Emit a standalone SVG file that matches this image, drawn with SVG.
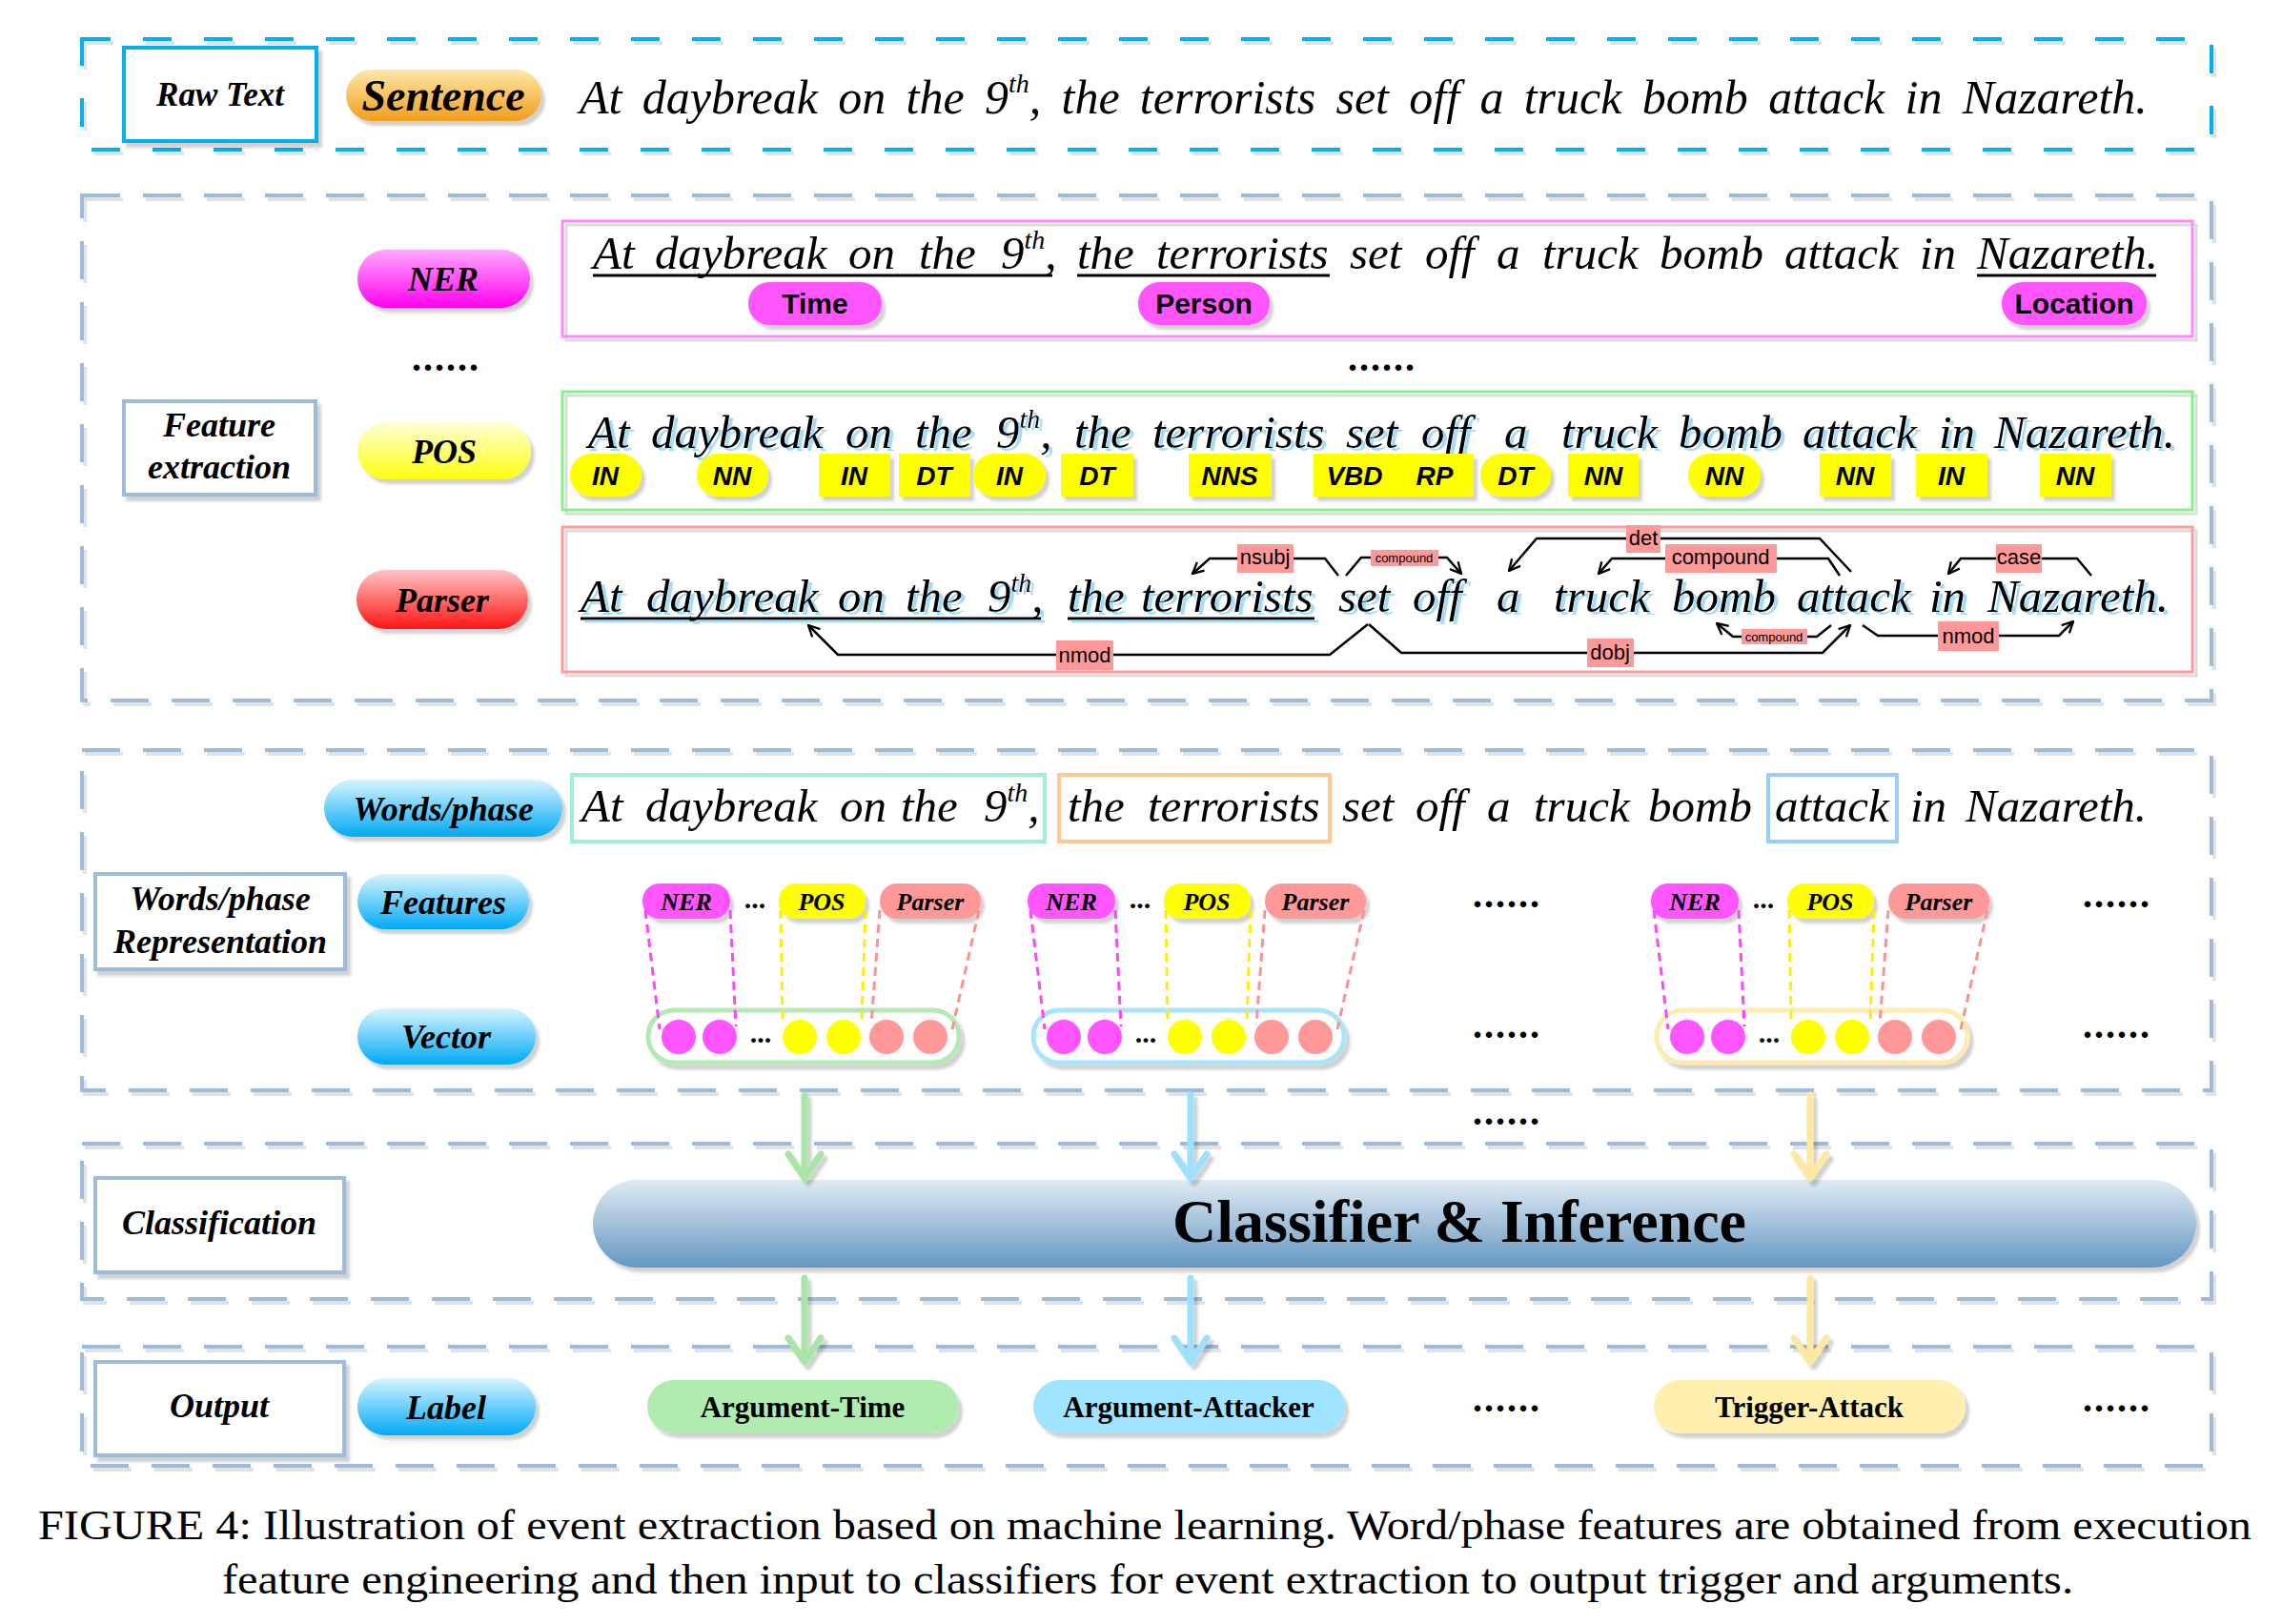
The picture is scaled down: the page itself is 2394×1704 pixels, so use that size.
<svg xmlns="http://www.w3.org/2000/svg" width="2394" height="1704" viewBox="0 0 2394 1704">
<defs>
<linearGradient id="gBlue" x1="0" y1="0" x2="0" y2="1"><stop offset="0" stop-color="#d8f4ff"/><stop offset="1" stop-color="#00aaf6"/></linearGradient>
<linearGradient id="gMag" x1="0" y1="0" x2="0" y2="1"><stop offset="0" stop-color="#ffaaff"/><stop offset="1" stop-color="#ff00ee"/></linearGradient>
<linearGradient id="gYel" x1="0" y1="0" x2="0" y2="1"><stop offset="0" stop-color="#ffffd8"/><stop offset="1" stop-color="#ffff10"/></linearGradient>
<linearGradient id="gRed" x1="0" y1="0" x2="0" y2="1"><stop offset="0" stop-color="#ffc4c4"/><stop offset="1" stop-color="#ff1414"/></linearGradient>
<linearGradient id="gOr" x1="0" y1="0" x2="0" y2="1"><stop offset="0" stop-color="#fde8a8"/><stop offset="1" stop-color="#f09e1c"/></linearGradient>
<linearGradient id="gCls" x1="0" y1="0" x2="0" y2="1"><stop offset="0" stop-color="#e0ebf3"/><stop offset="1" stop-color="#6497c2"/></linearGradient>
<filter id="sh" x="-10%" y="-20%" width="130%" height="160%"><feDropShadow dx="4" dy="5" stdDeviation="1.5" flood-color="#000" flood-opacity="0.18"/></filter>
<filter id="ts" x="-2%" y="-30%" width="104%" height="160%"><feDropShadow dx="4" dy="3" stdDeviation="0.6" flood-color="#a6dcf6" flood-opacity="1"/></filter>
<marker id="ah" viewBox="0 0 12 12" refX="11" refY="6" markerWidth="14" markerHeight="14" markerUnits="userSpaceOnUse" orient="auto"><path d="M1,1 L11,6 L1,11" fill="none" stroke="#000" stroke-width="2"/></marker>
</defs>
<style>
.p1{fill:none;stroke:#00b0f0;stroke-width:4;stroke-dasharray:30 34}
.p{fill:none;stroke:#9dbcdc;stroke-width:4;stroke-dasharray:40 24}
.psh{fill:none;stroke:#e2e2e2;stroke-width:4;stroke-dasharray:40 24}
.psh1{fill:none;stroke:#e2e2e2;stroke-width:4;stroke-dasharray:30 34}
.box{fill:#fff;stroke:#9dbcdc;stroke-width:4}
.bi{font-family:"Liberation Serif","Times New Roman",serif;font-style:italic;font-weight:bold;text-anchor:middle;fill:#000;font-size:36px}
.sm{font-size:26px}
.bs{font-family:"Liberation Serif","Times New Roman",serif;font-weight:bold;text-anchor:middle;fill:#000;font-size:31px}
.sent{font-family:"Liberation Serif","Times New Roman",serif;font-style:italic;font-size:49px;fill:#000}
.sup{font-size:28px}
.tag{font-family:"Liberation Sans",Arial,sans-serif;font-weight:bold;font-style:italic;font-size:28px;text-anchor:middle;fill:#000}
.ner{font-family:"Liberation Sans",Arial,sans-serif;font-weight:bold;font-size:30px;text-anchor:middle;fill:#000}
.dep{font-family:"Liberation Sans",Arial,sans-serif;font-size:22px;text-anchor:middle;fill:#000}
.deps{font-size:13px}
.dl{fill:#ff9999}
.arc{fill:none;stroke:#000;stroke-width:2.5;marker-end:url(#ah)}
.ul{stroke:#000;stroke-width:3}
.dots{font-family:"Liberation Serif","Times New Roman",serif;font-weight:bold;font-size:40px;letter-spacing:2px;fill:#000}
.dot3{font-family:"Liberation Serif","Times New Roman",serif;font-weight:bold;font-size:30px;text-anchor:middle;fill:#000}
.yt{fill:#ffff00}
.fm{fill:#ff55ff}
.fy{fill:#ffff00}
.fr{fill:#ff9999}
.dm{fill:none;stroke:#ff44ff;stroke-width:3;stroke-dasharray:9 6}
.dy{fill:none;stroke:#ffee00;stroke-width:3;stroke-dasharray:9 6}
.dr{fill:none;stroke:#ff9090;stroke-width:3;stroke-dasharray:9 6}
.ag{fill:none;stroke:#a8e6a8;stroke-width:7;stroke-linecap:round;stroke-linejoin:round}
.ab{fill:none;stroke:#a0e0ff;stroke-width:7;stroke-linecap:round;stroke-linejoin:round}
.ay{fill:none;stroke:#ffe8a0;stroke-width:7;stroke-linecap:round;stroke-linejoin:round}
.cap{font-family:"Liberation Serif","Times New Roman",serif;font-size:44px;fill:#000}
</style>
<rect width="2394" height="1704" fill="#fff"/>

<g id="panels">
<rect class="psh1" x="89" y="45" width="2234" height="116"/>
<rect class="p1" x="86" y="41" width="2234" height="116"/>
<rect class="psh" x="89" y="209" width="2234" height="530"/>
<rect class="p" x="86" y="205" width="2234" height="530"/>
<rect class="psh" x="89" y="791" width="2234" height="357"/>
<rect class="p" x="86" y="787" width="2234" height="357"/>
<rect class="psh" x="89" y="1204" width="2234" height="163"/>
<rect class="p" x="86" y="1200" width="2234" height="163"/>
<rect class="psh" x="89" y="1417" width="2234" height="125"/>
<rect class="p" x="86" y="1413" width="2234" height="125"/>
</g>

<g id="raw-text-label">
<rect x="130" y="50" width="202" height="98" fill="#fff" stroke="#00b0f0" stroke-width="4" filter="url(#sh)"/>
<text class="bi" x="231" y="111" style="font-size:35px">Raw Text</text>
</g>
<g id="sentence-pill">
<rect x="363" y="73" width="205" height="54" rx="27" fill="url(#gOr)" filter="url(#sh)"/>
<text class="bi" x="465" y="116" style="font-size:46px">Sentence</text>
</g>
<g id="raw-sentence">
<text class="sent" x="608" y="119" style="font-size:50px;word-spacing:8.8px">At daybreak on the 9<tspan class="sup" dy="-22">th</tspan><tspan dy="22">, the terrorists set off a truck bomb attack in Nazareth.</tspan></text>
</g>

<g id="feature-extraction-label">
<rect class="box" x="130" y="421" width="201" height="98" filter="url(#sh)"/>
<text class="bi" x="230" y="458">Feature</text>
<text class="bi" x="230" y="502">extraction</text>
</g>
<g id="ner-pill">
<rect x="375" y="262" width="181" height="61" rx="30" fill="url(#gMag)" filter="url(#sh)"/>
<text class="bi" x="465" y="305">NER</text>
</g>
<g id="left-dots">
<text class="dots" x="432" y="389">......</text>
</g>
<g id="pos-pill">
<rect x="375" y="443" width="182" height="60" rx="30" fill="url(#gYel)" filter="url(#sh)"/>
<text class="bi" x="466" y="486">POS</text>
</g>
<g id="parser-pill">
<rect x="374" y="598" width="180" height="62" rx="31" fill="url(#gRed)" filter="url(#sh)"/>
<text class="bi" x="464" y="642">Parser</text>
</g>

<g id="ner-box">
<rect x="594" y="236" width="1710" height="121" fill="none" stroke="#dcdcdc" stroke-width="3"/>
<rect x="590" y="232" width="1710" height="121" fill="none" stroke="#ff88ff" stroke-width="3"/>
<text class="sent" y="282"><tspan x="622">At</tspan><tspan x="687">daybreak</tspan><tspan x="890">on</tspan><tspan x="964">the</tspan><tspan x="1050">9</tspan><tspan class="sup" dy="-21">th</tspan><tspan dy="21">,</tspan><tspan x="1130">the</tspan><tspan x="1213">terrorists</tspan><tspan x="1416">set</tspan><tspan x="1495">off</tspan><tspan x="1570">a</tspan><tspan x="1618">truck</tspan><tspan x="1741">bomb</tspan><tspan x="1872">attack</tspan><tspan x="2014">in</tspan><tspan x="2074">Nazareth.</tspan></text>
<line class="ul" x1="622" y1="289" x2="1104" y2="289"/>
<line class="ul" x1="1130" y1="289" x2="1395" y2="289"/>
<line class="ul" x1="2074" y1="289" x2="2262" y2="289"/>
<rect class="fm" x="785" y="296" width="140" height="45" rx="22" filter="url(#sh)"/>
<text class="ner" x="855" y="329">Time</text>
<rect class="fm" x="1194" y="296" width="138" height="45" rx="22" filter="url(#sh)"/>
<text class="ner" x="1263" y="329">Person</text>
<rect class="fm" x="2100" y="296" width="152" height="45" rx="22" filter="url(#sh)"/>
<text class="ner" x="2176" y="329">Location</text>
</g>
<g id="mid-dots">
<text class="dots" x="1414" y="389">......</text>
</g>

<g id="pos-box">
<rect x="594" y="415" width="1710" height="124" fill="none" stroke="#dcdcdc" stroke-width="3"/>
<rect x="590" y="411" width="1710" height="124" fill="none" stroke="#88ee88" stroke-width="3"/>
<text class="sent" y="470" filter="url(#ts)"><tspan x="617">At</tspan><tspan x="683">daybreak</tspan><tspan x="887">on</tspan><tspan x="960">the</tspan><tspan x="1045">9</tspan><tspan class="sup" dy="-21">th</tspan><tspan dy="21">,</tspan><tspan x="1127">the</tspan><tspan x="1209">terrorists</tspan><tspan x="1412">set</tspan><tspan x="1491">off</tspan><tspan x="1578">a</tspan><tspan x="1638">truck</tspan><tspan x="1761">bomb</tspan><tspan x="1891">attack</tspan><tspan x="2034">in</tspan><tspan x="2092">Nazareth.</tspan></text>
<g filter="url(#sh)">
<rect class="yt" x="598" y="476" width="75" height="45" rx="22"/>
<rect class="yt" x="731" y="476" width="75" height="45" rx="22"/>
<rect class="yt" x="859" y="476" width="75" height="45"/>
<rect class="yt" x="943" y="476" width="75" height="45"/>
<rect class="yt" x="1021" y="476" width="76" height="45" rx="22"/>
<rect class="yt" x="1113" y="476" width="76" height="45"/>
<rect class="yt" x="1247" y="476" width="87" height="45"/>
<rect class="yt" x="1378" y="476" width="168" height="45"/>
<rect class="yt" x="1553" y="476" width="74" height="45" rx="22"/>
<rect class="yt" x="1645" y="476" width="74" height="45"/>
<rect class="yt" x="1771" y="476" width="76" height="45" rx="22"/>
<rect class="yt" x="1909" y="476" width="75" height="45"/>
<rect class="yt" x="2010" y="476" width="75" height="45"/>
<rect class="yt" x="2140" y="476" width="75" height="45"/>
</g>
<text class="tag" x="635" y="509">IN</text>
<text class="tag" x="768" y="509">NN</text>
<text class="tag" x="896" y="509">IN</text>
<text class="tag" x="980" y="509">DT</text>
<text class="tag" x="1059" y="509">IN</text>
<text class="tag" x="1151" y="509">DT</text>
<text class="tag" x="1290" y="509">NNS</text>
<text class="tag" x="1421" y="509">VBD</text>
<text class="tag" x="1505" y="509">RP</text>
<text class="tag" x="1590" y="509">DT</text>
<text class="tag" x="1682" y="509">NN</text>
<text class="tag" x="1809" y="509">NN</text>
<text class="tag" x="1946" y="509">NN</text>
<text class="tag" x="2047" y="509">IN</text>
<text class="tag" x="2177" y="509">NN</text>
</g>

<g id="parser-box">
<rect x="594" y="557" width="1710" height="152" fill="none" stroke="#dcdcdc" stroke-width="3"/>
<rect x="590" y="553" width="1710" height="152" fill="none" stroke="#ff9a9a" stroke-width="3"/>
<g filter="url(#ts)">
<text class="sent" y="642"><tspan x="609">At</tspan><tspan x="678">daybreak</tspan><tspan x="879">on</tspan><tspan x="950">the</tspan><tspan x="1036">9</tspan><tspan class="sup" dy="-21">th</tspan><tspan dy="21">,</tspan><tspan x="1120">the</tspan><tspan x="1197">terrorists</tspan><tspan x="1404">set</tspan><tspan x="1482">off</tspan><tspan x="1570">a</tspan><tspan x="1630">truck</tspan><tspan x="1754">bomb</tspan><tspan x="1885">attack</tspan><tspan x="2024">in</tspan><tspan x="2085">Nazareth.</tspan></text>
<line class="ul" x1="609" y1="649" x2="1092" y2="649"/>
<line class="ul" x1="1120" y1="649" x2="1379" y2="649"/>
</g>
</g>

<g id="words-phase-representation-label">
<rect class="box" x="100" y="917" width="262" height="100" filter="url(#sh)"/>
<text class="bi" x="231" y="955">Words/phase</text>
<text class="bi" x="231" y="1000">Representation</text>
</g>
<g id="words-phase-pill">
<rect x="340" y="818" width="250" height="60" rx="30" fill="url(#gBlue)" filter="url(#sh)"/>
<text class="bi" x="465" y="861">Words/phase</text>
</g>
<g id="features-pill">
<rect x="375" y="917" width="180" height="58" rx="29" fill="url(#gBlue)" filter="url(#sh)"/>
<text class="bi" x="465" y="959">Features</text>
</g>
<g id="vector-pill">
<rect x="375" y="1058" width="187" height="59" rx="29" fill="url(#gBlue)" filter="url(#sh)"/>
<text class="bi" x="468" y="1100">Vector</text>
</g>
<g id="words-phase-sentence">
<rect x="600" y="813" width="496" height="70" fill="none" stroke="#a0f0d0" stroke-width="4"/>
<rect x="1111" y="813" width="284" height="70" fill="none" stroke="#ffc896" stroke-width="4"/>
<rect x="1855" y="813" width="135" height="70" fill="none" stroke="#99ccff" stroke-width="4"/>
<text class="sent" y="862"><tspan x="610">At</tspan><tspan x="677">daybreak</tspan><tspan x="881">on</tspan><tspan x="945">the</tspan><tspan x="1032">9</tspan><tspan class="sup" dy="-21">th</tspan><tspan dy="21">,</tspan><tspan x="1120">the</tspan><tspan x="1204">terrorists</tspan><tspan x="1408">set</tspan><tspan x="1485">off</tspan><tspan x="1560">a</tspan><tspan x="1609">truck</tspan><tspan x="1729">bomb</tspan><tspan x="1862">attack</tspan><tspan x="2004">in</tspan><tspan x="2062">Nazareth.</tspan></text>
</g>

<g id="feature-group-1">
<rect class="fm" x="674" y="927" width="92" height="37" rx="18" filter="url(#sh)"/><text class="bi sm" x="720" y="955">NER</text>
<text class="dot3" x="792" y="953">...</text>
<rect class="fy" x="817" y="927" width="91" height="37" rx="18" filter="url(#sh)"/><text class="bi sm" x="862" y="955">POS</text>
<rect class="fr" x="923" y="927" width="106" height="37" rx="18" filter="url(#sh)"/><text class="bi sm" x="976" y="955">Parser</text>
<rect x="680" y="1060" width="326" height="55" rx="27" fill="#fff" stroke="#b4e8b4" stroke-width="5" filter="url(#sh)"/>
<circle class="fm" cx="712" cy="1088" r="18"/><circle class="fm" cx="755" cy="1088" r="18"/>
<text class="dot3" x="798" y="1094">...</text>
<circle class="fy" cx="839" cy="1088" r="18"/><circle class="fy" cx="885" cy="1088" r="18"/>
<circle class="fr" cx="930" cy="1088" r="18"/><circle class="fr" cx="976" cy="1088" r="18"/>
</g>
<g id="feature-group-2">
<rect class="fm" x="1078" y="927" width="92" height="37" rx="18" filter="url(#sh)"/><text class="bi sm" x="1124" y="955">NER</text>
<text class="dot3" x="1196" y="953">...</text>
<rect class="fy" x="1221" y="927" width="91" height="37" rx="18" filter="url(#sh)"/><text class="bi sm" x="1266" y="955">POS</text>
<rect class="fr" x="1327" y="927" width="106" height="37" rx="18" filter="url(#sh)"/><text class="bi sm" x="1380" y="955">Parser</text>
<rect x="1084" y="1060" width="326" height="55" rx="27" fill="#fff" stroke="#a8e4fa" stroke-width="5" filter="url(#sh)"/>
<circle class="fm" cx="1116" cy="1088" r="18"/><circle class="fm" cx="1159" cy="1088" r="18"/>
<text class="dot3" x="1202" y="1094">...</text>
<circle class="fy" cx="1243" cy="1088" r="18"/><circle class="fy" cx="1289" cy="1088" r="18"/>
<circle class="fr" cx="1334" cy="1088" r="18"/><circle class="fr" cx="1380" cy="1088" r="18"/>
</g>
<g id="feature-group-3">
<rect class="fm" x="1732" y="927" width="92" height="37" rx="18" filter="url(#sh)"/><text class="bi sm" x="1778" y="955">NER</text>
<text class="dot3" x="1850" y="953">...</text>
<rect class="fy" x="1875" y="927" width="91" height="37" rx="18" filter="url(#sh)"/><text class="bi sm" x="1920" y="955">POS</text>
<rect class="fr" x="1981" y="927" width="106" height="37" rx="18" filter="url(#sh)"/><text class="bi sm" x="2034" y="955">Parser</text>
<rect x="1738" y="1060" width="326" height="55" rx="27" fill="#fff" stroke="#ffeab0" stroke-width="5" filter="url(#sh)"/>
<circle class="fm" cx="1770" cy="1088" r="18"/><circle class="fm" cx="1813" cy="1088" r="18"/>
<text class="dot3" x="1856" y="1094">...</text>
<circle class="fy" cx="1897" cy="1088" r="18"/><circle class="fy" cx="1943" cy="1088" r="18"/>
<circle class="fr" cx="1988" cy="1088" r="18"/><circle class="fr" cx="2034" cy="1088" r="18"/>
</g>
<g id="feature-dots">
<text class="dots" x="1545" y="952">......</text>
<text class="dots" x="2185" y="952">......</text>
<text class="dots" x="1545" y="1089">......</text>
<text class="dots" x="2185" y="1089">......</text>
<text class="dots" x="1545" y="1180">......</text>
</g>

<g id="classification-label">
<rect class="box" x="100" y="1236" width="261" height="99" filter="url(#sh)"/>
<text class="bi" x="230" y="1295">Classification</text>
</g>
<g id="classifier">
<rect x="622" y="1238" width="1682" height="92" rx="46" fill="url(#gCls)" filter="url(#sh)"/>
<text x="1531" y="1303" text-anchor="middle" style="font-family:'Liberation Serif','Times New Roman',serif;font-weight:bold;font-size:64px">Classifier &amp; Inference</text>
</g>

<g id="output-label">
<rect class="box" x="100" y="1429" width="261" height="98" filter="url(#sh)"/>
<text class="bi" x="230" y="1487">Output</text>
</g>
<g id="label-pill">
<rect x="375" y="1446" width="187" height="60" rx="30" fill="url(#gBlue)" filter="url(#sh)"/>
<text class="bi" x="468" y="1489">Label</text>
</g>
<g id="argument-time">
<rect x="679" y="1448" width="327" height="56" rx="28" fill="#b0ecb0" filter="url(#sh)"/>
<text class="bs" x="842" y="1487">Argument-Time</text>
</g>
<g id="argument-attacker">
<rect x="1084" y="1448" width="327" height="56" rx="28" fill="#a0e4ff" filter="url(#sh)"/>
<text class="bs" x="1247" y="1487">Argument-Attacker</text>
</g>
<g id="trigger-attack">
<rect x="1735" y="1448" width="327" height="56" rx="28" fill="#fff0b0" filter="url(#sh)"/>
<text class="bs" x="1898" y="1487">Trigger-Attack</text>
</g>
<g id="output-dots">
<text class="dots" x="1545" y="1481">......</text>
<text class="dots" x="2185" y="1481">......</text>
</g>

<g id="connectors">
<path class="arc" d="M1404,604 L1390,586 L1269,586 L1251,602"/>
<path class="arc" d="M1412,604 L1428,585 L1518,585 L1533,602"/>
<path class="arc" d="M1942,600 L1909,565 L1612,565 L1583,599"/>
<path class="arc" d="M1930,604 L1918,586 L1691,586 L1677,602"/>
<path class="arc" d="M2194,604 L2179,586 L2057,586 L2044,602"/>
<path class="arc" d="M1435,655 L1395,687 L879,687 L848,656"/>
<path class="arc" d="M1436,655 L1470,685 L1912,685 L1941,656"/>
<path class="arc" d="M1921,656 L1906,668 L1818,668 L1801,654"/>
<path class="arc" d="M1954,656 L1970,667 L2160,667 L2175,652"/>

<line class="dm" x1="677" y1="955" x2="692" y2="1080"/><line class="dm" x1="766" y1="955" x2="772" y2="1077"/>
<line class="dy" x1="819" y1="955" x2="821" y2="1072"/><line class="dy" x1="908" y1="955" x2="904" y2="1073"/>
<line class="dr" x1="923" y1="955" x2="914" y2="1075"/><line class="dr" x1="1027" y1="955" x2="999" y2="1080"/>
<line class="dm" x1="1081" y1="955" x2="1096" y2="1080"/><line class="dm" x1="1170" y1="955" x2="1176" y2="1077"/>
<line class="dy" x1="1223" y1="955" x2="1225" y2="1072"/><line class="dy" x1="1312" y1="955" x2="1308" y2="1073"/>
<line class="dr" x1="1327" y1="955" x2="1318" y2="1075"/><line class="dr" x1="1431" y1="955" x2="1403" y2="1080"/>
<line class="dm" x1="1735" y1="955" x2="1750" y2="1080"/><line class="dm" x1="1824" y1="955" x2="1830" y2="1077"/>
<line class="dy" x1="1877" y1="955" x2="1879" y2="1072"/><line class="dy" x1="1966" y1="955" x2="1962" y2="1073"/>
<line class="dr" x1="1981" y1="955" x2="1972" y2="1075"/><line class="dr" x1="2085" y1="955" x2="2057" y2="1080"/>

<g filter="url(#sh)">
<path class="ag" d="M844,1149 L844,1234 M827,1211 L844,1236 L861,1211"/>
<path class="ab" d="M1249,1149 L1249,1234 M1232,1211 L1249,1236 L1266,1211"/>
<path class="ay" d="M1899,1149 L1899,1234 M1882,1211 L1899,1236 L1916,1211"/>
<path class="ag" d="M844,1341 L844,1427 M827,1404 L844,1429 L861,1404"/>
<path class="ab" d="M1249,1341 L1249,1427 M1232,1404 L1249,1429 L1266,1404"/>
<path class="ay" d="M1899,1341 L1899,1427 M1882,1404 L1899,1429 L1916,1404"/>
</g>
</g>

<g id="dependency-labels">
<rect class="dl" x="1298" y="571" width="59" height="30"/><text class="dep" x="1327" y="592">nsubj</text>
<rect class="dl" x="1438" y="577" width="71" height="17"/><text class="dep deps" x="1473" y="590">compound</text>
<rect class="dl" x="1706" y="551" width="36" height="29"/><text class="dep" x="1724" y="572">det</text>
<rect class="dl" x="1747" y="571" width="117" height="30"/><text class="dep" x="1805" y="592">compound</text>
<rect class="dl" x="2094" y="571" width="48" height="30"/><text class="dep" x="2118" y="592">case</text>
<rect class="dl" x="1108" y="672" width="60" height="31"/><text class="dep" x="1138" y="695">nmod</text>
<rect class="dl" x="1665" y="670" width="49" height="30"/><text class="dep" x="1689" y="692">dobj</text>
<rect class="dl" x="1827" y="660" width="69" height="16"/><text class="dep deps" x="1861" y="673">compound</text>
<rect class="dl" x="2033" y="652" width="64" height="31"/><text class="dep" x="2065" y="675">nmod</text>
</g>

<g id="caption">
<text class="cap" x="40" y="1615" textLength="2322" lengthAdjust="spacingAndGlyphs">FIGURE 4: Illustration of event extraction based on machine learning. Word/phase features are obtained from execution</text>
<text class="cap" x="233" y="1672" textLength="1942" lengthAdjust="spacingAndGlyphs">feature engineering and then input to classifiers for event extraction to output trigger and arguments.</text>
</g>
</svg>
